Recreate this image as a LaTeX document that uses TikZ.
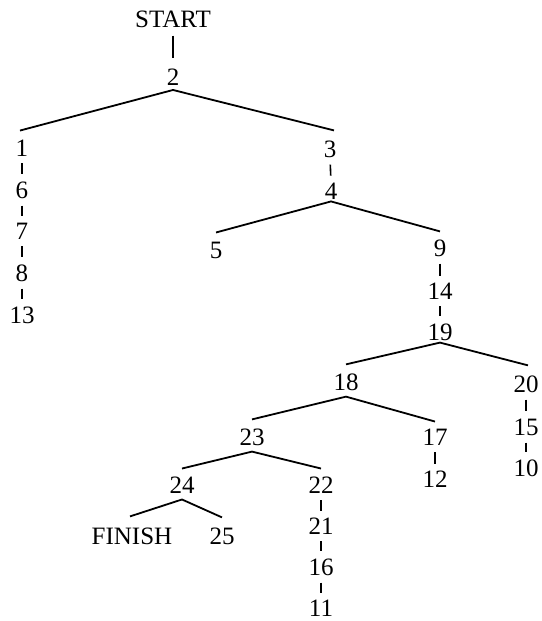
\documentclass[tikz,border=0pt]{standalone}
\usepackage{fontspec}
\setmainfont{Liberation Serif}
\begin{document}
\begin{tikzpicture}[x=1pt,y=-1pt,
  lbl/.style={inner sep=0pt, font=\fontsize{25}{30}\selectfont},
  tick/.style={line width=1.6pt, shorten <=7pt, shorten >=7pt},
  branch/.style={line width=1.8pt}]
\useasboundingbox (0,0) rectangle (541,621);
% nodes
\node[lbl] (start) at (173,19) {START};
\node[lbl] (n2) at (173,77) {2};
\node[lbl] (n1) at (22,148) {1};
\node[lbl] (n6) at (22,190) {6};
\node[lbl] (n7) at (22,231) {7};
\node[lbl] (n8) at (22,273) {8};
\node[lbl] (n13) at (22,315) {13};
\node[lbl] (n3) at (330,149) {3};
\node[lbl] (n4) at (331,191) {4};
\node[lbl] (n5) at (216,250) {5};
\node[lbl] (n9) at (440,248) {9};
\node[lbl] (n14) at (440,291) {14};
\node[lbl] (n19) at (440,332) {19};
\node[lbl] (n18) at (346,382) {18};
\node[lbl] (n20) at (526,384) {20};
\node[lbl] (n15) at (526,427) {15};
\node[lbl] (n10) at (526,468) {10};
\node[lbl] (n23) at (252,437) {23};
\node[lbl] (n17) at (435,437) {17};
\node[lbl] (n12) at (435,479) {12};
\node[lbl] (n24) at (182,485) {24};
\node[lbl] (n22) at (321,485) {22};
\node[lbl] (n21) at (321,526) {21};
\node[lbl] (n16) at (321,567) {16};
\node[lbl] (n11) at (321,608) {11};
\node[lbl] (finish) at (132,536) {FINISH};
\node[lbl] (n25) at (222,536) {25};
% vertical ticks
\draw[tick, shorten <=8pt, shorten >=11pt] (start.south) -- (n2.north);
\draw[tick] (n1.south) -- (n6.north);
\draw[tick] (n6.south) -- (n7.north);
\draw[tick] (n7.south) -- (n8.north);
\draw[tick] (n8.south) -- (n13.north);
\draw[tick] (n3.south) -- (n4.north);
\draw[tick] (n9.south) -- (n14.north);
\draw[tick] (n14.south) -- (n19.north);
\draw[tick] (n20.south) -- (n15.north);
\draw[tick] (n15.south) -- (n10.north);
\draw[tick] (n17.south) -- (n12.north);
\draw[tick] (n22.south) -- (n21.north);
\draw[tick] (n21.south) -- (n16.north);
\draw[tick] (n16.south) -- (n11.north);
% branches
\draw[branch] ([xshift=-2pt,yshift=9pt]n1.north) -- ([yshift=-4.5pt]n2.south) -- ([xshift=4pt,yshift=10pt]n3.north);
\draw[branch] ([yshift=9pt]n5.north) -- ([yshift=-2pt]n4.south) -- ([yshift=8pt]n9.north);
\draw[branch] ([yshift=9pt]n18.north) -- ([yshift=-2pt]n19.south) -- ([xshift=2pt,yshift=10pt]n20.north);
\draw[branch] ([yshift=9pt]n23.north) -- ([yshift=-6pt]n18.south) -- ([yshift=7pt]n17.north);
\draw[branch] ([yshift=8pt]n24.north) -- ([yshift=-6pt]n23.south) -- ([yshift=8pt]n22.north);
\draw[branch] ([xshift=-2pt,yshift=11pt]finish.north) -- ([yshift=-6pt]n24.south) -- ([yshift=10pt]n25.north);
\end{tikzpicture}
\end{document}
